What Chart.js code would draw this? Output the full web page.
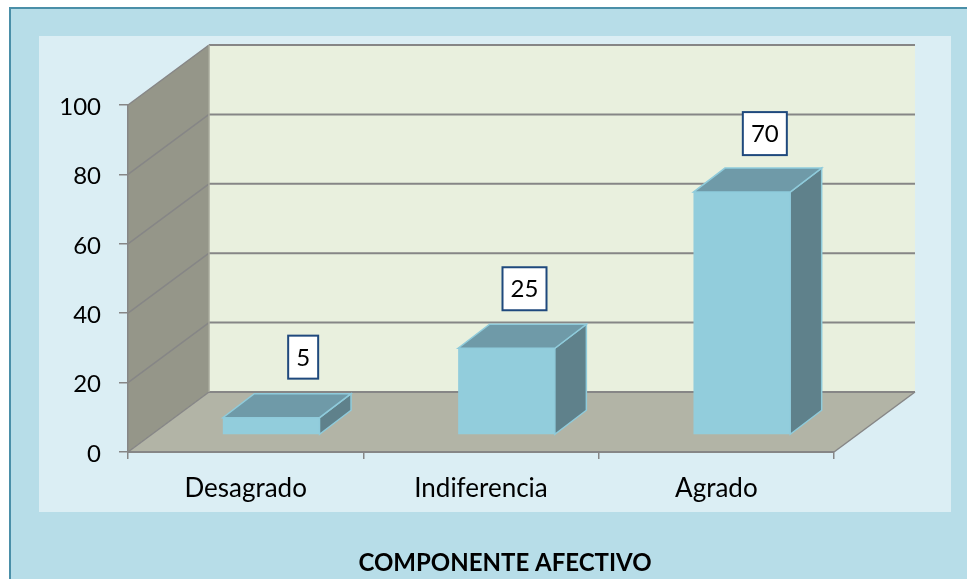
<!DOCTYPE html>
<html lang="es">
<head>
    <meta charset="UTF-8">
    <title>Componente afectivo</title>
    <script src="https://cdn.jsdelivr.net/npm/chart.js"></script>
    <style>
        html, body { margin: 0; height: 100%; background: #fff; overflow: hidden; }
        #frame { position: absolute; left: 9px; top: 7px; right: 0; bottom: 0; background: #b7dde8; border-left: 2px solid #4a8fa8; border-top: 2px solid #4a8fa8; }
        #panel { position: absolute; left: 39px; top: 36px; width: 912px; height: 476px; background: #dbeef4; }
        #wrap { position: absolute; left: 0; top: 0; width: 967px; height: 579px; }
    </style>
</head>
<body>
    <div id="frame"></div>
    <div id="panel"></div>
    <div id="wrap"><canvas id="chart" width="967" height="579"></canvas></div>
    <script>
        const categories = ["Desagrado", "Indiferencia", "Agrado"];
        const values = [5, 25, 70];
        const yTicks = [0, 20, 40, 60, 80, 100];
        const chartTitle = "COMPONENTE AFECTIVO";

        const FONT = "Lato, Carlito, sans-serif";
        const LINE = "#868686";
        const wallDepth = { x: 81, y: -60 };
        const barShift = { x: 25.5, y: -17 };
        const barDepth = { x: 31.5, y: -24 };
        // the value boxes were placed by hand in the original
        const labelShift = [{ x: 32, y: -39 }, { x: 18, y: -38 }, { x: 23, y: -37 }];

        function poly(ctx, pts, fill, stroke, width) {
            ctx.beginPath();
            pts.forEach((p, i) => i ? ctx.lineTo(p[0], p[1]) : ctx.moveTo(p[0], p[1]));
            ctx.closePath();
            ctx.fillStyle = fill;
            ctx.fill();
            if (stroke) {
                ctx.strokeStyle = stroke;
                ctx.lineWidth = width;
                ctx.stroke();
            }
        }

        const walls3d = {
            id: "walls3d",
            beforeDraw(chart) {
                const { ctx, chartArea: a, scales: { y } } = chart;
                const dx = wallDepth.x, dy = wallDepth.y;
                const y0 = y.getPixelForValue(0), yMax = y.getPixelForValue(yTicks[yTicks.length - 1]);
                ctx.save();
                poly(ctx, [[a.left + dx, yMax + dy], [a.right + dx, yMax + dy], [a.right + dx, y0 + dy], [a.left + dx, y0 + dy]], "#e9f0de");
                poly(ctx, [[a.left, y0], [a.left, yMax], [a.left + dx, yMax + dy], [a.left + dx, y0 + dy]], "#959689");
                poly(ctx, [[a.left, y0], [a.right, y0], [a.right + dx, y0 + dy], [a.left + dx, y0 + dy]], "#b2b4a6");
                ctx.strokeStyle = LINE;
                yTicks.forEach(v => {
                    const py = y.getPixelForValue(v);
                    ctx.lineWidth = 1.5;
                    ctx.beginPath();
                    ctx.moveTo(a.left, py);
                    ctx.lineTo(a.left + dx, py + dy);
                    ctx.stroke();
                    ctx.lineWidth = 2;
                    ctx.beginPath();
                    ctx.moveTo(a.left + dx, py + dy);
                    ctx.lineTo(a.right + dx, py + dy);
                    ctx.stroke();
                });
                ctx.lineWidth = 1.5;
                ctx.beginPath();
                ctx.moveTo(a.right, y0);
                ctx.lineTo(a.right + dx, y0 + dy);
                ctx.stroke();
                ctx.strokeStyle = "#a9aa9c";
                ctx.beginPath();
                ctx.moveTo(a.left + dx, yMax + dy);
                ctx.lineTo(a.left + dx, y0 + dy);
                ctx.stroke();
                ctx.restore();
            },
            beforeDatasetDraw(chart) {
                chart.ctx.save();
                chart.ctx.translate(barShift.x, barShift.y);
            },
            afterDatasetDraw(chart, args) {
                const ctx = chart.ctx;
                const dx = barDepth.x, dy = barDepth.y;
                args.meta.data.forEach(bar => {
                    const l = bar.x - bar.width / 2, r = bar.x + bar.width / 2;
                    poly(ctx, [[r, bar.y], [r + dx, bar.y + dy], [r + dx, bar.base + dy], [r, bar.base]], "#5f818b", "#8fcbdb", 1.5);
                    poly(ctx, [[l, bar.y], [r, bar.y], [r + dx, bar.y + dy], [l + dx, bar.y + dy]], "#6f9aa8", "#8fcbdb", 1.5);
                });
                ctx.restore();
            },
            afterDatasetsDraw(chart) {
                const ctx = chart.ctx;
                ctx.save();
                ctx.font = "24px " + FONT;
                ctx.textAlign = "center";
                ctx.textBaseline = "middle";
                chart.getDatasetMeta(0).data.forEach((bar, i) => {
                    const text = String(values[i]);
                    const w = Math.round(ctx.measureText(text).width) + 16, h = 43;
                    const cx = bar.x + barShift.x + labelShift[i].x;
                    const bottom = bar.y + barShift.y + labelShift[i].y;
                    ctx.fillStyle = "#fff";
                    ctx.strokeStyle = "#1f497d";
                    ctx.lineWidth = 2;
                    ctx.fillRect(cx - w / 2, bottom - h, w, h);
                    ctx.strokeRect(cx - w / 2, bottom - h, w, h);
                    ctx.fillStyle = "#000";
                    ctx.fillText(text, cx, bottom - h / 2 + 1);
                });
                ctx.restore();
            },
            afterLayout(chart) {
                // title sits right of the plot centre in the original
                chart.titleBlock.left += 88;
                chart.titleBlock.right += 88;
            }
        };

        new Chart(document.getElementById("chart"), {
            type: "bar",
            data: {
                labels: categories,
                datasets: [{
                    data: values,
                    backgroundColor: "#92cddc",
                    borderColor: "#92cddc",
                    borderWidth: 0,
                    categoryPercentage: 1,
                    barPercentage: 0.411
                }]
            },
            options: {
                responsive: false,
                animation: false,
                layout: { padding: { top: 105, right: 133, bottom: 0, left: 0 } },
                plugins: {
                    legend: { display: false },
                    tooltip: { enabled: false },
                    title: {
                        display: true,
                        text: chartTitle,
                        position: "bottom",
                        color: "#000",
                        font: { family: FONT, size: 24, weight: "bold" },
                        padding: { top: 0, bottom: 1 }
                    }
                },
                scales: {
                    x: {
                        grid: { drawOnChartArea: false, color: LINE, lineWidth: 1.5, tickLength: 7 },
                        border: { color: LINE, width: 2 },
                        ticks: { color: "#000", padding: 14, maxRotation: 0, font: { family: FONT, size: 26 } },
                        afterFit: s => { s.height = 97.2; }
                    },
                    y: {
                        min: 0,
                        max: 100,
                        afterBuildTicks: s => { s.ticks = yTicks.map(value => ({ value })); },
                        grid: { drawOnChartArea: false, color: LINE, lineWidth: 1.5, tickLength: 9 },
                        border: { color: LINE, width: 1.5 },
                        ticks: { color: "#000", padding: 18, labelOffset: 2, font: { family: FONT, size: 24 } },
                        afterFit: s => { s.width = 128; }
                    }
                }
            },
            plugins: [walls3d]
        });
    </script>
</body>
</html>
